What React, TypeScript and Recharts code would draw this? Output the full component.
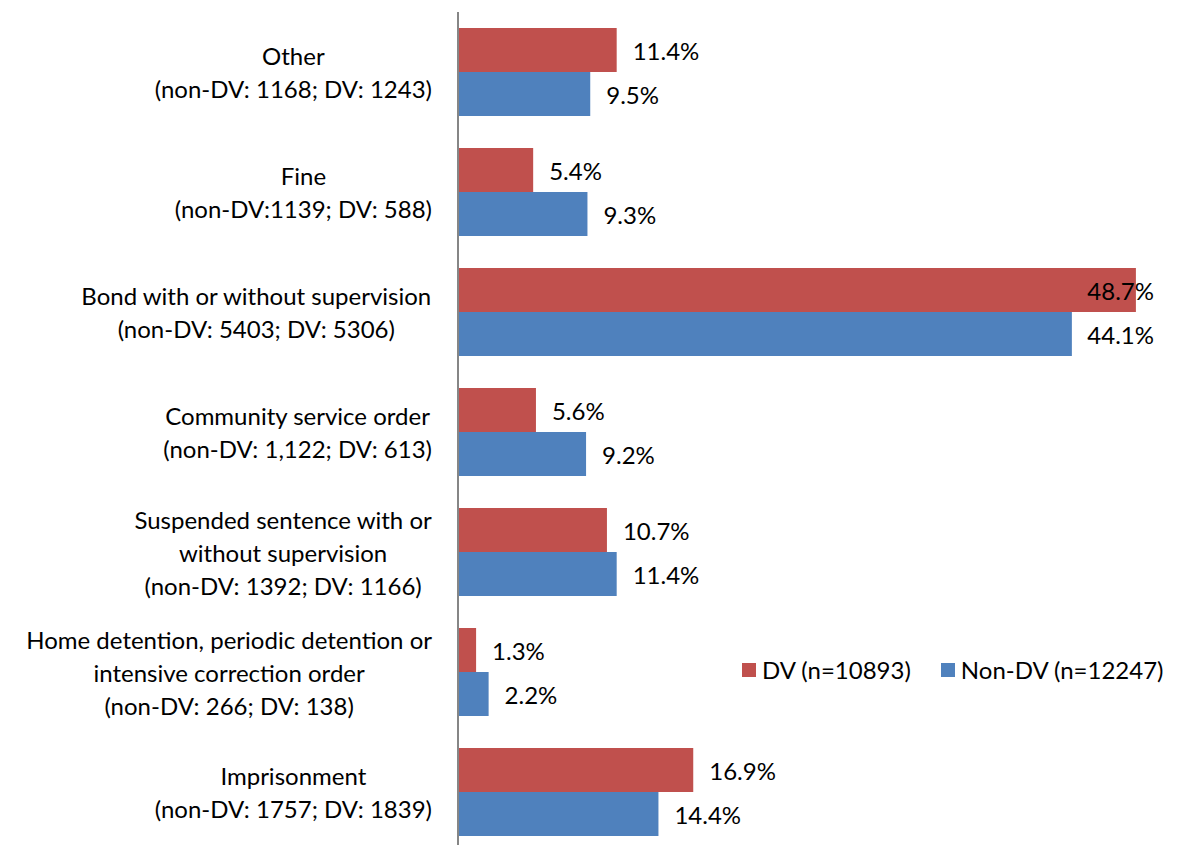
import React from 'react';
import { BarChart, Bar, XAxis, YAxis, Legend, LabelList } from 'recharts';

const categories = [
  'Other\n(non-DV: 1168; DV: 1243)',
  'Fine\n(non-DV:1139; DV: 588)',
  'Bond with or without supervision\n(non-DV: 5403; DV: 5306)',
  'Community service order\n(non-DV: 1,122; DV: 613)',
  'Suspended sentence with or\nwithout supervision\n(non-DV: 1392; DV: 1166)',
  'Home detention, periodic detention or\nintensive correction order\n(non-DV: 266; DV: 138)',
  'Imprisonment\n(non-DV: 1757; DV: 1839)',
];
const dvValues = [11.4, 5.4, 48.7, 5.6, 10.7, 1.3, 16.9];
const nonDvValues = [9.5, 9.3, 44.1, 9.2, 11.4, 2.2, 14.4];
const seriesNames = ['DV (n=10893)', 'Non-DV (n=12247)'];
const seriesColors = ['#C0504D', '#4F81BD'];

const data = categories.map((c, i) => ({ cat: c, dv: dvValues[i], nondv: nonDvValues[i] }));

const W = 1177;
const H = 860;
const AXIS_W = 458;
const M = { top: 12, right: 23, bottom: 8, left: 0 };
const PLOT_RIGHT = W - M.right;
const FONT = 'Lato, "Open Sans", sans-serif';
const FS = 24;
const LH = 33;

let ctx: CanvasRenderingContext2D | null = null;
function measure(t: string) {
  if (!ctx) {
    ctx = document.createElement('canvas').getContext('2d');
  }
  if (!ctx) return t.length * FS * 0.5;
  ctx.font = `${FS}px Lato`;
  return ctx.measureText(t).width;
}

const CatTick = (props: any) => {
  const { y, payload } = props;
  const lines: string[] = String(payload.value).split('\n');
  const maxW = Math.max(...lines.map(measure));
  const right = AXIS_W - 26;
  const cx = right - maxW / 2;
  const y0 = y - ((lines.length - 1) * LH) / 2;
  return (
    <g>
      {lines.map((l, i) => (
        <text key={i} x={cx} y={y0 + i * LH} textAnchor="middle" dominantBaseline="central" fontFamily={FONT} fontSize={FS} fill="#000">
          {l}
        </text>
      ))}
    </g>
  );
};

const ValueLabel = (props: any) => {
  const { x, y, width, height, value } = props;
  const txt = `${Number(value).toFixed(1)}%`;
  const w = measure(txt);
  let tx = x + width + 16;
  let anchor = 'start';
  if (tx + w > PLOT_RIGHT) {
    tx = PLOT_RIGHT;
    anchor = 'end';
  }
  return (
    <text x={tx} y={y + height / 2} textAnchor={anchor as any} dominantBaseline="central" fontFamily={FONT} fontSize={FS} fill="#000">
      {txt}
    </text>
  );
};

const LegendContent = () => (
  <div style={{ display: 'flex', alignItems: 'center', fontFamily: FONT, fontSize: FS, color: '#000', whiteSpace: 'nowrap' }}>
    {seriesNames.map((n, i) => (
      <div key={n} style={{ display: 'flex', alignItems: 'center', marginRight: i === 0 ? 30 : 0 }}>
        <div style={{ width: 14, height: 14, background: seriesColors[i], marginRight: 6 }} />
        <span>{n}</span>
      </div>
    ))}
  </div>
);

export default function App() {
  return (
    <div style={{ position: 'absolute', left: 0, top: 0, width: W, height: 845, overflow: 'hidden', background: '#fff' }}>
      <BarChart width={W} height={H} data={data} layout="vertical" margin={M} barSize={44} barGap={0}>
        <XAxis type="number" domain={[0, 50]} hide />
        <YAxis
          type="category"
          dataKey="cat"
          width={AXIS_W}
          axisLine={{ stroke: '#868686', strokeWidth: 2 }}
          tickLine={false}
          tick={<CatTick />}
          interval={0}
        />
        <Legend
          layout="horizontal"
          verticalAlign="middle"
          align="center"
          content={<LegendContent />}
          wrapperStyle={{ position: 'absolute', left: 742, top: 655, width: 'auto', height: 'auto' }}
        />
        <Bar dataKey="dv" name={seriesNames[0]} fill={seriesColors[0]} isAnimationActive={false}>
          <LabelList dataKey="dv" content={<ValueLabel />} />
        </Bar>
        <Bar dataKey="nondv" name={seriesNames[1]} fill={seriesColors[1]} isAnimationActive={false}>
          <LabelList dataKey="nondv" content={<ValueLabel />} />
        </Bar>
      </BarChart>
    </div>
  );
}
